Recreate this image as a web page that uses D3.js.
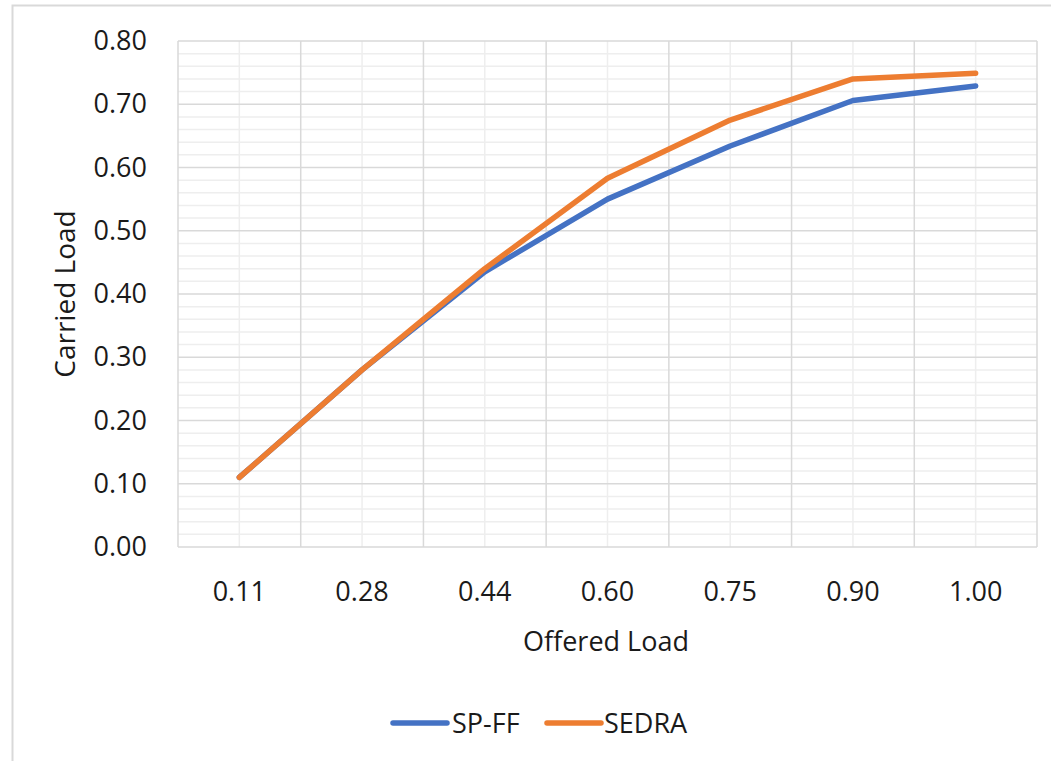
<!DOCTYPE html>
<html>
<head>
<meta charset="utf-8">
<script src="https://cdn.jsdelivr.net/npm/d3@7"></script>
<style>
  html, body { margin: 0; padding: 0; background: #fff; }
  svg { display: block; }
  text { font-family: "Open Sans", "Liberation Sans", sans-serif; fill: #1a1a1a; }
</style>
</head>
<body>
<svg id="chart" width="1051" height="761"></svg>
<script>
const categories = ["0.11", "0.28", "0.44", "0.60", "0.75", "0.90", "1.00"];
const spff  = [0.11, 0.28, 0.435, 0.55, 0.634, 0.706, 0.729];
const sedra = [0.11, 0.28, 0.44, 0.583, 0.675, 0.740, 0.749];
const yTicks = [0, 0.1, 0.2, 0.3, 0.4, 0.5, 0.6, 0.7, 0.8];
const seriesNames = ["SP-FF", "SEDRA"];
const colors = ["#4472C4", "#ED7D31"];

const svg = d3.select("#chart");
const W = 1051, H = 761;
const m = { left: 178, right: 1037, top: 41, bottom: 547 };
const FS = 27;

// outer frame
svg.append("rect").attr("x", 12.5).attr("y", 5.5).attr("width", W + 10).attr("height", H + 10)
  .attr("fill", "#fff").attr("stroke", "#d9d9d9").attr("stroke-width", 2);

const x = d3.scaleBand().domain(categories).range([m.left, m.right]).padding(0);
const y = d3.scaleLinear().domain([0, 0.8]).range([m.bottom, m.top]);

const g = svg.append("g");

// minor horizontal gridlines
const minor = d3.range(0, 0.8001, 0.02).filter(v => Math.abs(Math.round(v * 10) - v * 10) > 1e-6);
g.append("g").selectAll("line").data(minor).join("line")
  .attr("x1", m.left).attr("x2", m.right)
  .attr("y1", d => y(d)).attr("y2", d => y(d))
  .attr("stroke", "#eeeeee").attr("stroke-width", 1.5);

// minor vertical gridlines at category centers
g.append("g").selectAll("line").data(categories).join("line")
  .attr("x1", d => x(d) + x.bandwidth() / 2).attr("x2", d => x(d) + x.bandwidth() / 2)
  .attr("y1", m.top).attr("y2", m.bottom)
  .attr("stroke", "#eeeeee").attr("stroke-width", 1.5);

// major horizontal gridlines
g.append("g").selectAll("line").data(yTicks).join("line")
  .attr("x1", m.left).attr("x2", m.right)
  .attr("y1", d => y(d)).attr("y2", d => y(d))
  .attr("stroke", "#d9d9d9").attr("stroke-width", 1.5);

// major vertical gridlines at category boundaries
const bounds = categories.map(c => x(c)).concat([m.right]);
g.append("g").selectAll("line").data(bounds).join("line")
  .attr("x1", d => d).attr("x2", d => d)
  .attr("y1", m.top).attr("y2", m.bottom)
  .attr("stroke", "#d9d9d9").attr("stroke-width", 1.5);

// y axis labels
const yAxis = d3.axisLeft(y).tickValues(yTicks).tickFormat(d3.format(".2f")).tickSize(0).tickPadding(31);
const ya = svg.append("g").attr("transform", `translate(${m.left},0)`).call(yAxis);
ya.select(".domain").remove();
ya.selectAll("text").attr("font-size", FS).attr("font-family", "Open Sans").attr("fill", "#1a1a1a");

// x axis labels
const xAxis = d3.axisBottom(x).tickSize(0).tickPadding(35);
const xa = svg.append("g").attr("transform", `translate(0,${m.bottom})`).call(xAxis);
xa.select(".domain").remove();
xa.selectAll("text").attr("font-size", FS).attr("font-family", "Open Sans").attr("fill", "#1a1a1a");

// lines
const line = d3.line().x((d, i) => x(categories[i]) + x.bandwidth() / 2).y(d => y(d));
[spff, sedra].forEach((s, i) => {
  svg.append("path").datum(s).attr("d", line)
    .attr("fill", "none").attr("stroke", colors[i]).attr("stroke-width", 5.5)
    .attr("stroke-linejoin", "round").attr("stroke-linecap", "round");
});

// axis titles
svg.append("text").attr("x", 606).attr("y", 651)
  .attr("text-anchor", "middle").attr("font-size", FS).text("Offered Load");
svg.append("text").attr("transform", "translate(75,294) rotate(-90)")
  .attr("text-anchor", "middle").attr("font-size", 28).text("Carried Load");

// legend
const legendItems = [{ x: 393, tx: 452 }, { x: 547, tx: 604 }];
legendItems.forEach((it, i) => {
  svg.append("line").attr("x1", it.x).attr("x2", it.x + 54).attr("y1", 723).attr("y2", 723)
    .attr("stroke", colors[i]).attr("stroke-width", 5.5).attr("stroke-linecap", "round");
  svg.append("text").attr("x", it.tx).attr("y", 733).attr("font-size", FS).text(seriesNames[i]);
});
</script>
</body>
</html>
